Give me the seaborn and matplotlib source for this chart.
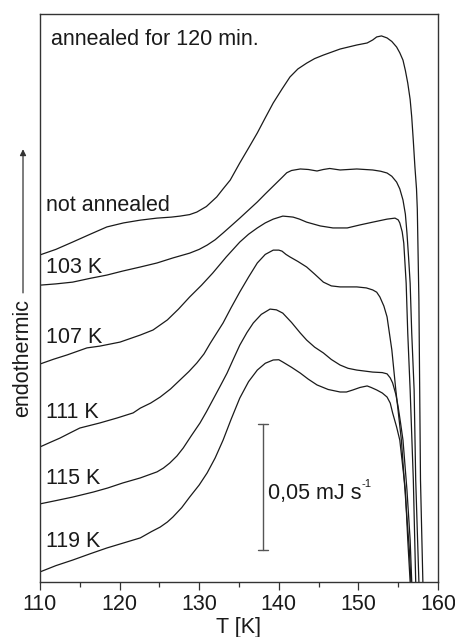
import numpy as np
import pandas as pd
import matplotlib
matplotlib.use("Agg")
import matplotlib.pyplot as plt
import seaborn as sns

# DSC traces (temperature in K, heat flow in mJ/s, stacked offsets)
T_na = [110.0, 112.0, 114.1, 116.3, 118.4, 120.5, 122.6, 124.7, 126.5, 127.6, 128.8, 129.7,
        130.9, 132.2, 133.0, 133.9, 135.1, 136.2, 137.3, 138.3, 139.3, 140.4, 141.4, 142.4,
        143.5, 144.5, 145.6, 147.7, 149.8, 151.1, 151.8, 152.3, 152.9, 153.6, 154.2, 154.8,
        155.2, 155.6, 155.9, 156.2, 156.5, 156.7, 156.9, 157.1, 157.3, 157.4, 157.5, 157.6,
        157.7, 157.8, 158.1, 158.2]
q_na = [0.1298, 0.1320, 0.1349, 0.1380, 0.1409, 0.1425, 0.1436, 0.1444, 0.1448, 0.1452, 0.1458,
        0.1468, 0.1490, 0.1528, 0.1560, 0.1595, 0.1663, 0.1722, 0.1782, 0.1842, 0.1901, 0.1956,
        0.2004, 0.2036, 0.2059, 0.2077, 0.2091, 0.2115, 0.2131, 0.2139, 0.2151, 0.2163, 0.2167,
        0.2159, 0.2145, 0.2123, 0.2100, 0.2071, 0.2030, 0.1980, 0.1915, 0.1845, 0.1750, 0.1647,
        0.1560, 0.1480, 0.1300, 0.1119, 0.0762, 0.0405, 0.0000, -0.0071]

T_103 = [110.0, 112.0, 114.1, 116.3, 118.4, 120.4, 122.6, 124.7, 126.7, 128.8, 130.0, 131.0,
         132.0, 133.0, 134.0, 135.1, 136.2, 137.3, 138.3, 139.3, 140.4, 141.0, 141.6, 142.7,
         143.7, 144.8, 145.6, 146.4, 147.7, 149.8, 151.8, 152.8, 153.6, 154.2, 154.8, 155.2,
         155.6, 155.9, 156.1, 156.3, 156.5, 156.7, 157.0, 157.2, 157.6, 157.7]
q_103 = [0.1178, 0.1183, 0.1190, 0.1205, 0.1218, 0.1234, 0.1250, 0.1266, 0.1286, 0.1305, 0.1320,
         0.1337, 0.1358, 0.1385, 0.1413, 0.1444, 0.1476, 0.1508, 0.1540, 0.1571, 0.1605, 0.1624,
         0.1633, 0.1639, 0.1637, 0.1631, 0.1637, 0.1641, 0.1635, 0.1639, 0.1635, 0.1630, 0.1623,
         0.1610, 0.1587, 0.1560, 0.1516, 0.1460, 0.1385, 0.1290, 0.1186, 0.0988, 0.0762, 0.0405,
         0.0000, -0.0071]

T_107 = [110.0, 111.7, 113.4, 115.9, 117.5, 120.05, 122.6, 124.2, 126.0, 127.4, 128.8, 130.3,
         131.7, 133.4, 135.1, 136.2, 137.3, 138.3, 139.3, 140.5, 141.2, 141.8, 142.6, 143.5,
         145.2, 146.8, 148.6, 150.2, 151.8, 153.6, 154.6, 155.0, 155.2, 155.5, 155.7, 156.0,
         156.2, 156.5, 156.9, 157.2, 157.4]
q_107 = [0.0865, 0.0884, 0.0901, 0.0929, 0.0936, 0.0952, 0.0980, 0.1000, 0.1040, 0.1083, 0.1131,
         0.1178, 0.1226, 0.1290, 0.1349, 0.1380, 0.1405, 0.1425, 0.1440, 0.1452, 0.1450, 0.1448,
         0.1440, 0.1428, 0.1413, 0.1405, 0.1405, 0.1417, 0.1428, 0.1440, 0.1444, 0.1437, 0.1425,
         0.1390, 0.1345, 0.1186, 0.0988, 0.0762, 0.0405, 0.0000, -0.0071]

T_111 = [110.0, 111.2, 112.5, 113.8, 115.0, 117.5, 119.7, 121.7, 122.6, 123.9, 125.1, 126.4,
         127.6, 128.7, 129.7, 130.6, 131.4, 132.2, 133.0, 134.0, 135.1, 136.2, 137.3, 138.3,
         139.3, 140.0, 140.4, 140.9, 141.4, 142.4, 143.5, 144.5, 145.6, 146.6, 147.7, 149.8,
         151.0, 151.8, 152.3, 152.7, 153.2, 153.6, 154.2, 154.7, 155.4, 156.0, 156.4, 156.6,
         156.7]
q_111 = [0.0536, 0.0553, 0.0571, 0.0592, 0.0611, 0.0631, 0.0651, 0.0671, 0.0690, 0.0710, 0.0734,
         0.0766, 0.0802, 0.0835, 0.0869, 0.0905, 0.0948, 0.0988, 0.1028, 0.1088, 0.1151, 0.1210,
         0.1266, 0.1300, 0.1317, 0.1317, 0.1313, 0.1300, 0.1290, 0.1272, 0.1250, 0.1222, 0.1190,
         0.1175, 0.1171, 0.1171, 0.1167, 0.1159, 0.1150, 0.1131, 0.1095, 0.1052, 0.0921, 0.0762,
         0.0563, 0.0298, 0.0127, 0.0000, -0.0071]

T_115 = [110.0, 112.0, 114.1, 116.7, 118.5, 120.4, 122.6, 124.7, 125.5, 126.3, 127.2, 128.0,
         129.0, 130.1, 130.9, 131.7, 132.6, 133.5, 134.3, 135.1, 136.0, 136.8, 137.8, 138.9,
         139.7, 140.5, 141.6, 142.7, 143.5, 144.5, 145.6, 146.6, 147.7, 148.7, 149.8, 151.8,
         153.0, 153.6, 154.0, 154.3, 154.7, 155.0, 155.3, 155.6, 156.1, 156.5, 156.7, 156.9]
q_115 = [0.0310, 0.0323, 0.0337, 0.0357, 0.0373, 0.0393, 0.0413, 0.0437, 0.0452, 0.0472, 0.0500,
         0.0532, 0.0580, 0.0631, 0.0675, 0.0722, 0.0775, 0.0829, 0.0885, 0.0940, 0.0990, 0.1028,
         0.1062, 0.1083, 0.1080, 0.1067, 0.1030, 0.0988, 0.0960, 0.0932, 0.0909, 0.0883, 0.0861,
         0.0848, 0.0841, 0.0833, 0.0831, 0.0826, 0.0810, 0.0790, 0.0745, 0.0694, 0.0630, 0.0563,
         0.0365, 0.0167, 0.0000, -0.0071]

T_119 = [110.0, 112.0, 114.1, 116.3, 118.4, 120.5, 122.6, 124.0, 125.1, 126.0, 126.7, 127.8,
         128.8, 130.0, 131.0, 132.0, 133.0, 134.0, 135.1, 136.2, 137.3, 138.3, 139.3, 140.0,
         140.5, 141.6, 142.7, 143.7, 144.8, 146.2, 147.7, 148.5, 149.3, 150.2, 151.1, 151.6,
         152.3, 153.0, 153.6, 154.0, 154.3, 154.8, 155.2, 155.9, 156.2, 156.5, 156.6]
q_119 = [0.0040, 0.0065, 0.0087, 0.0112, 0.0135, 0.0155, 0.0175, 0.0200, 0.0218, 0.0238, 0.0258,
         0.0295, 0.0337, 0.0385, 0.0433, 0.0492, 0.0563, 0.0645, 0.0730, 0.0795, 0.0841, 0.0868,
         0.0881, 0.0882, 0.0873, 0.0852, 0.0829, 0.0805, 0.0782, 0.0764, 0.0754, 0.0754, 0.0762,
         0.0772, 0.0778, 0.0772, 0.0762, 0.0750, 0.0734, 0.0710, 0.0671, 0.0615, 0.0563, 0.0365,
         0.0167, 0.0000, -0.0071]

labels = ["not annealed", "103 K", "107 K", "111 K", "115 K", "119 K"]
label_y = [0.1495, 0.1250, 0.0970, 0.0673, 0.0409, 0.0159]
curves = [(T_na, q_na), (T_103, q_103), (T_107, q_107),
          (T_111, q_111), (T_115, q_115), (T_119, q_119)]

x_ticks = [110, 120, 130, 140, 150, 160]
bar_T = 138.0
bar_low, bar_high = 0.0127, 0.0627

frames = []
for name, (t, q) in zip(labels, curves):
    frames.append(pd.DataFrame({"T": t, "q": q, "sample": name}))
df = pd.concat(frames, ignore_index=True)

sns.set_style("ticks")
plt.rcParams["font.family"] = ["Liberation Sans", "DejaVu Sans"]

fig = plt.figure(figsize=(4.56, 6.37), dpi=100)
ax = fig.add_axes([40 / 456, 55 / 637, 398 / 456, 568 / 637])

for name in labels:
    sub = df[df["sample"] == name]
    sns.lineplot(data=sub, x="T", y="q", sort=False, estimator=None,
                 color="#1a1a1a", linewidth=0.9, ax=ax, legend=False)

ax.set_xlim(110, 160)
ax.set_ylim(0, 0.2254)
ax.set_xticks(x_ticks)
ax.set_xticks(np.arange(115, 160, 10), minor=True)
ax.set_yticks([])
ax.tick_params(axis="x", which="major", direction="out", length=6, width=0.9,
               labelsize=15.5, colors="#333333", labelcolor="#1a1a1a", pad=3)
ax.tick_params(axis="x", which="minor", direction="out", length=3.5, width=0.9,
               colors="#333333")
for s in ax.spines.values():
    s.set_visible(True)
    s.set_color("#333333")
    s.set_linewidth(1.0)
ax.set_xlabel("T [K]", fontsize=15.5, color="#1a1a1a", labelpad=1)
ax.set_ylabel("")

for name, y in zip(labels, label_y):
    ax.text(110.7, y, name, fontsize=15.5, va="center", ha="left", color="#1a1a1a")

ax.text(111.4, 0.2151, "annealed for 120 min.", fontsize=15.5, va="center", ha="left",
        color="#1a1a1a")

# scale bar
ax.plot([bar_T, bar_T], [bar_low, bar_high], color="#555555", lw=1.0)
for yy in (bar_low, bar_high):
    ax.plot([bar_T - 0.62, bar_T + 0.62], [yy, yy], color="#555555", lw=1.0)
unit = ax.text(bar_T + 0.6, 0.0353, "0,05 mJ s", fontsize=15.5, va="center", ha="left",
               color="#1a1a1a")
ax.annotate("-1", xy=(1.0, 1.0), xycoords=unit, xytext=(0.4, 2.5),
            textcoords="offset points", fontsize=8, va="top", ha="left",
            color="#1a1a1a")

# endothermic direction arrow
ax.annotate("", xy=(-0.0427, 0.762), xytext=(-0.0427, 0.509),
            xycoords="axes fraction", textcoords="axes fraction",
            arrowprops=dict(arrowstyle="-|>", color="#333333", lw=0.9,
                            mutation_scale=9, shrinkA=0, shrinkB=0),
            annotation_clip=False)
ax.text(-0.0427, 0.394, "endothermic", rotation=90, fontsize=15.5, va="center",
        ha="center", color="#1a1a1a", transform=ax.transAxes)

fig.savefig("out.png", dpi=100)
